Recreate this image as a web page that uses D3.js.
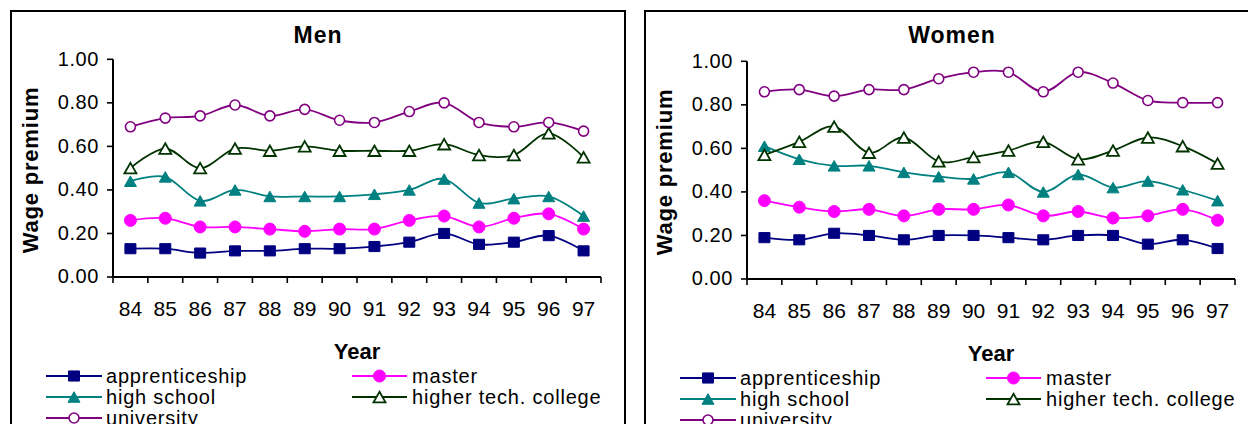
<!DOCTYPE html>
<html>
<head>
<meta charset="utf-8">
<script src="https://cdn.jsdelivr.net/npm/d3@7"></script>
<style>
  html, body { margin: 0; padding: 0; background: #fff; overflow: hidden; }
  svg { display: block; font-family: "Liberation Sans", Arial, Helvetica, sans-serif; }
</style>
</head>
<body>
<svg id="chart" width="1248" height="424"></svg>
<script>
// Survey years (x categories) and y-axis ticks
const years = ["84", "85", "86", "87", "88", "89", "90", "91", "92", "93", "94", "95", "96", "97"];
const yTicks = [0, 0.2, 0.4, 0.6, 0.8, 1.0];

// Education levels shown in every panel
const seriesNames = ["apprenticeship", "master", "high school", "higher tech. college", "university"];

// Wage premium, men
const menApprenticeship = [0.13, 0.13, 0.11, 0.12, 0.12, 0.13, 0.13, 0.14, 0.16, 0.20, 0.15, 0.16, 0.19, 0.12];
const menMaster         = [0.26, 0.27, 0.23, 0.23, 0.22, 0.21, 0.22, 0.22, 0.26, 0.28, 0.23, 0.27, 0.29, 0.22];
const menHighSchool     = [0.44, 0.46, 0.35, 0.40, 0.37, 0.37, 0.37, 0.38, 0.40, 0.45, 0.34, 0.36, 0.37, 0.28];
const menHigherTech     = [0.50, 0.59, 0.50, 0.59, 0.58, 0.60, 0.58, 0.58, 0.58, 0.61, 0.56, 0.56, 0.66, 0.55];
const menUniversity     = [0.69, 0.73, 0.74, 0.79, 0.74, 0.77, 0.72, 0.71, 0.76, 0.80, 0.71, 0.69, 0.71, 0.67];

// Wage premium, women
const womenApprenticeship = [0.19, 0.18, 0.21, 0.20, 0.18, 0.20, 0.20, 0.19, 0.18, 0.20, 0.20, 0.16, 0.18, 0.14];
const womenMaster         = [0.36, 0.33, 0.31, 0.32, 0.29, 0.32, 0.32, 0.34, 0.29, 0.31, 0.28, 0.29, 0.32, 0.27];
const womenHighSchool     = [0.61, 0.55, 0.52, 0.52, 0.49, 0.47, 0.46, 0.49, 0.40, 0.48, 0.42, 0.45, 0.41, 0.36];
const womenHigherTech     = [0.57, 0.63, 0.70, 0.58, 0.65, 0.54, 0.56, 0.59, 0.63, 0.55, 0.59, 0.65, 0.61, 0.53];
const womenUniversity     = [0.86, 0.87, 0.84, 0.87, 0.87, 0.92, 0.95, 0.95, 0.86, 0.95, 0.90, 0.82, 0.81, 0.81];

// Series styling
const seriesColors = ["#000080", "#ff00ff", "#008080", "#003300", "#800080"];

// Marker shapes (size = width in px)
const squareMark = { draw(c, s) { const w = s / 2, h = s * 0.46; c.rect(-w, -h, s, 2 * h); } };
const circleMark = { draw(c, s) { c.moveTo(s / 2, 0); c.arc(0, 0, s / 2, 0, 2 * Math.PI); } };
const triangleMark = { draw(c, s) { const w = s / 2, h = s * 0.44; c.moveTo(0, -h); c.lineTo(w, h); c.lineTo(-w, h); c.closePath(); } };

const markerStyles = [
  { type: squareMark,   size: 11, fill: seriesColors[0], stroke: seriesColors[0], sw: 1 },
  { type: circleMark,   size: 12, fill: seriesColors[1], stroke: seriesColors[1], sw: 1 },
  { type: triangleMark, size: 12, fill: seriesColors[2], stroke: seriesColors[2], sw: 1 },
  { type: triangleMark, size: 12, fill: "#ffffff",       stroke: seriesColors[3], sw: 1.8 },
  { type: circleMark,   size: 10, fill: "#ffffff",       stroke: seriesColors[4], sw: 1.6 }
];

const panels = [
  { title: "Men",   dx: 0,   dy: 0, series: [menApprenticeship, menMaster, menHighSchool, menHigherTech, menUniversity] },
  { title: "Women", dx: 634, dy: 2, series: [womenApprenticeship, womenMaster, womenHighSchool, womenHigherTech, womenUniversity] }
];

// Panel geometry
const frame = { x: 11, y: 11, w: 614, h: 440 };
const plot = { left: 113, right: 601, top: 59.3, bottom: 277 };

const svg = d3.select("#chart");

panels.forEach(p => {
  const g = svg.append("g").attr("transform", `translate(${p.dx},0)`);

  // Outer chart frame
  g.append("rect")
    .attr("x", frame.x).attr("y", frame.y)
    .attr("width", frame.w).attr("height", frame.h)
    .attr("fill", "none").attr("stroke", "#000").attr("stroke-width", 2);

  // Panel title
  g.append("text")
    .attr("x", frame.x + frame.w / 2).attr("y", 43)
    .attr("text-anchor", "middle")
    .attr("font-size", 23).attr("font-weight", "bold")
    .attr("letter-spacing", 1)
    .text(p.title);

  const pg = g.append("g").attr("transform", `translate(0,${p.dy})`);

  const x = d3.scaleBand().domain(years).range([plot.left, plot.right]);
  const cx = d => x(d) + x.bandwidth() / 2;
  const xb = d3.scaleLinear().domain([0, years.length]).range([plot.left, plot.right]);
  const y = d3.scaleLinear().domain([0, 1]).range([plot.bottom, plot.top]);

  // Y axis
  const yAxis = pg.append("g")
    .attr("transform", `translate(${plot.left},0)`)
    .call(d3.axisLeft(y).tickValues(yTicks).tickFormat(d3.format(".2f"))
      .tickSize(6).tickSizeOuter(0).tickPadding(8).offset(0));
  yAxis.select(".domain").attr("stroke", "#000").attr("stroke-width", 2);
  yAxis.selectAll(".tick line").attr("stroke", "#000").attr("stroke-width", 1.6);
  yAxis.selectAll(".tick text")
    .attr("fill", "#000").attr("font-size", 20).attr("letter-spacing", 0.6)
    .attr("font-family", null);

  // X axis line with ticks at category boundaries
  const xAxis = pg.append("g")
    .attr("transform", `translate(0,${plot.bottom})`)
    .call(d3.axisBottom(xb).tickValues(d3.range(years.length + 1)).tickFormat("")
      .tickSize(6).tickSizeOuter(0).offset(0));
  xAxis.select(".domain").attr("stroke", "#000").attr("stroke-width", 2);
  xAxis.selectAll(".tick line").attr("stroke", "#000").attr("stroke-width", 1.6);

  // X category labels
  const xLabels = pg.append("g")
    .attr("transform", `translate(0,${plot.bottom})`)
    .call(d3.axisBottom(x).tickSize(0).offset(0));
  xLabels.select(".domain").remove();
  xLabels.selectAll(".tick text")
    .attr("fill", "#000").attr("font-size", 21)
    .attr("y", 39).attr("dy", 0)
    .attr("font-family", null);

  // Axis titles
  pg.append("text")
    .attr("transform", "translate(38,170) rotate(-90)")
    .attr("text-anchor", "middle")
    .attr("font-size", 22).attr("font-weight", "bold")
    .attr("letter-spacing", 0.8)
    .text("Wage premium");

  pg.append("text")
    .attr("x", (plot.left + plot.right) / 2).attr("y", 359)
    .attr("text-anchor", "middle")
    .attr("font-size", 22).attr("font-weight", "bold")
    .text("Year");

  // Series: smoothed line then markers, in series order
  const line = d3.line()
    .x((d, i) => cx(years[i]))
    .y(d => y(d))
    .curve(d3.curveCardinal.tension(0));

  p.series.forEach((vals, si) => {
    const ms = markerStyles[si];
    const sg = pg.append("g");
    sg.append("path")
      .attr("d", line(vals))
      .attr("fill", "none")
      .attr("stroke", seriesColors[si])
      .attr("stroke-width", 1.8);
    sg.selectAll("path.mark")
      .data(vals)
      .join("path")
      .attr("class", "mark")
      .attr("transform", (d, i) => `translate(${cx(years[i])},${y(d)})`)
      .attr("d", d3.symbol().type(ms.type).size(ms.size))
      .attr("fill", ms.fill)
      .attr("stroke", ms.stroke)
      .attr("stroke-width", ms.sw);
  });

  // Legend (two columns, three rows)
  const legendCols = [{ x0: 46, x1: 102, tx: 106 }, { x0: 352, x1: 407, tx: 412 }];
  const legendRows = [376, 397, 418];
  seriesNames.forEach((name, si) => {
    const col = legendCols[si % 2];
    const ry = legendRows[Math.floor(si / 2)];
    const ms = markerStyles[si];
    const lg = pg.append("g");
    lg.append("line")
      .attr("x1", col.x0).attr("x2", col.x1)
      .attr("y1", ry).attr("y2", ry)
      .attr("stroke", seriesColors[si]).attr("stroke-width", 1.8);
    lg.append("path")
      .attr("transform", `translate(${(col.x0 + col.x1) / 2},${ry})`)
      .attr("d", d3.symbol().type(ms.type).size(ms.size))
      .attr("fill", ms.fill).attr("stroke", ms.stroke).attr("stroke-width", ms.sw);
    lg.append("text")
      .attr("x", col.tx).attr("y", ry).attr("dy", "0.35em")
      .attr("font-size", 20).attr("letter-spacing", 0.8)
      .text(name);
  });
});
</script>
</body>
</html>
